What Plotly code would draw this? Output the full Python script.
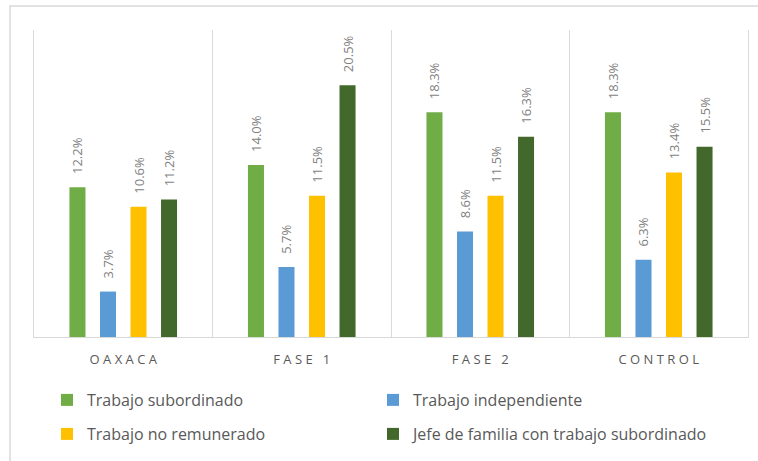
import plotly.graph_objects as go

categories = ["OAXACA", "FASE 1", "FASE 2", "CONTROL"]
series_names = [
    "Trabajo subordinado",
    "Trabajo independiente",
    "Trabajo no remunerado",
    "Jefe de familia con trabajo subordinado",
]
trabajo_subordinado = [12.2, 14.0, 18.3, 18.3]
trabajo_independiente = [3.7, 5.7, 8.6, 6.3]
trabajo_no_remunerado = [10.6, 11.5, 11.5, 13.4]
jefe_familia = [11.2, 20.5, 16.3, 15.5]
colors = ["#70AD47", "#5B9BD5", "#FFC000", "#43682B"]
legend_ids = ["legend", "legend2", "legend3", "legend4"]

W, H = 758, 461
ml, mr, mt, mb = 34, 10, 30, 124
pw, ph = W - ml - mr, H - mt - mb

fig = go.Figure()
for name, vals, col, lg in zip(series_names,
                               [trabajo_subordinado, trabajo_independiente,
                                trabajo_no_remunerado, jefe_familia],
                               colors, legend_ids):
    fig.add_trace(go.Bar(
        x=categories, y=vals, name=name, legend=lg,
        marker=dict(color=col, line=dict(width=0)),
        text=["\u00a0\u00a0\u00a0" + f"{v:.1f}%" for v in vals],
        textposition="outside", textangle=-90, constraintext="none",
        textfont=dict(family="Open Sans", size=13, color="#7F7F7F"),
        cliponaxis=False,
    ))

ticktext = [" ".join(list(c)) for c in categories]

legend_common = dict(
    orientation="h", xanchor="left", yanchor="middle",
    font=dict(family="Open Sans", size=16, color="#595959"),
    bgcolor="rgba(0,0,0,0)", itemwidth=30,
)
col_x = [(47 - ml) / pw, (373 - ml) / pw]
row_y = [-(400 - (H - mb)) / ph, -(434 - (H - mb)) / ph]

fig.update_layout(
    width=W, height=H,
    margin=dict(l=ml, r=mr, t=mt, b=mb, autoexpand=False),
    paper_bgcolor="white", plot_bgcolor="white",
    barmode="group", bargap=0.316, bargroupgap=0.475,
    font=dict(family="Open Sans", color="#595959"),
    xaxis=dict(
        tickmode="array", tickvals=categories, ticktext=ticktext,
        tickson="boundaries", showgrid=True, gridcolor="#D9D9D9", gridwidth=1,
        showline=True, linecolor="#D9D9D9", linewidth=1,
        ticks="", tickfont=dict(family="Open Sans", size=13, color="#595959"),
        ticklabelstandoff=10,
    ),
    yaxis=dict(range=[0, 25], showticklabels=False, ticks="", showgrid=False,
               zeroline=False, showline=True, mirror=True,
               linecolor="#D9D9D9", linewidth=1),
    legend=dict(x=col_x[0], y=row_y[0], **legend_common),
    legend2=dict(x=col_x[1], y=row_y[0], **legend_common),
    legend3=dict(x=col_x[0], y=row_y[1], **legend_common),
    legend4=dict(x=col_x[1], y=row_y[1], **legend_common),
    showlegend=True,
    shapes=[dict(
        type="rect", xref="paper", yref="paper",
        x0=(10 - ml) / pw, x1=(775 - ml) / pw,
        y0=-(480 - (H - mb)) / ph, y1=1 + (mt - 6) / ph,
        line=dict(color="#D9D9D9", width=1.5), layer="below",
    )],
)

fig.write_html("out.html", config={"displayModeBar": False},
               post_script="document.body.style.margin='0';")
